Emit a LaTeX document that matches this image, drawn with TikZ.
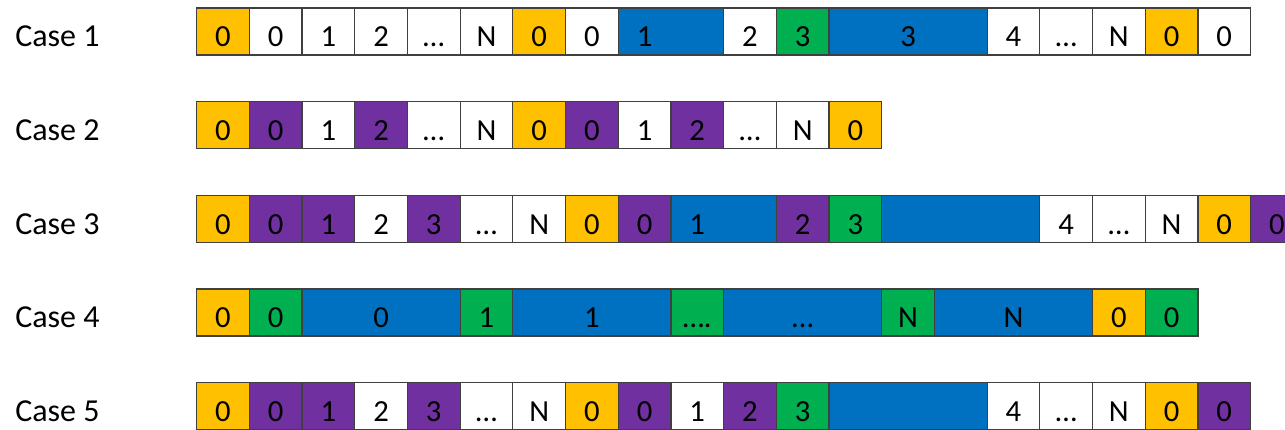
\documentclass[tikz,border=0pt]{standalone}
\usepackage{fontspec}
\setmainfont{Carlito}
\definecolor{cy}{HTML}{FFC000}
\definecolor{cp}{HTML}{7030A0}
\definecolor{cb}{HTML}{0070C0}
\definecolor{cg}{HTML}{00B050}
\tikzset{
 cell/.style={draw=black!75, line width=0.9pt, anchor=north west, minimum height=35.25pt,
   inner sep=0pt, text height=23pt, text depth=0pt, font=\fontsize{23}{27}\selectfont},
 caselabel/.style={anchor=west, inner sep=0pt, text height=24pt, text depth=0pt,
   font=\fontsize{24}{28}\selectfont}
}
\newcommand\lone{\makebox[79.05pt][l]{\makebox[39.525pt]{1}}}
\newcommand\cellrow[3]{%
  \xdef\curx{196}%
  \foreach \lab/\col/\w [count=\i] in {#3} {
    \node[cell, fill=\col, minimum width=\w*39.525pt] (#1c\i) at (\curx,#2) {\lab};
    \pgfmathsetmacro\nx{\curx+\w*52.7}
    \xdef\curx{\nx}
  }%
}
\begin{document}
\begin{tikzpicture}[x=0.75pt,y=-0.75pt]
\useasboundingbox (0,0) rectangle (1285,429);
\clip (0,0) rectangle (1285,429);
\node[caselabel] (case1) at (15,30.8) {Case 1};
\node[caselabel] (case2) at (15,124.5) {Case 2};
\node[caselabel] (case3) at (15,218.2) {Case 3};
\node[caselabel] (case4) at (15,311.9) {Case 4};
\node[caselabel] (case5) at (15,405.6) {Case 5};
\cellrow{ra}{7.3}{0/cy/1, 0/white/1, 1/white/1, 2/white/1, …/white/1, N/white/1, 0/cy/1, 0/white/1, \lone/cb/2, 2/white/1, 3/cg/1, 3/cb/3, 4/white/1, …/white/1, N/white/1, 0/cy/1, 0/white/1}
\cellrow{rb}{101}{0/cy/1, 0/cp/1, 1/white/1, 2/cp/1, …/white/1, N/white/1, 0/cy/1, 0/cp/1, 1/white/1, 2/cp/1, …/white/1, N/white/1, 0/cy/1}
\cellrow{rc}{194.7}{0/cy/1, 0/cp/1, 1/cp/1, 2/white/1, 3/cp/1, …/white/1, N/white/1, 0/cy/1, 0/cp/1, \lone/cb/2, 2/cp/1, 3/cg/1, {}/cb/3, 4/white/1, …/white/1, N/white/1, 0/cy/1, 0/cp/1}
\cellrow{rd}{288.4}{0/cy/1, 0/cg/1, 0/cb/3, 1/cg/1, 1/cb/3, …./cg/1, …/cb/3, N/cg/1, N/cb/3, 0/cy/1, 0/cg/1}
\cellrow{re}{382.1}{0/cy/1, 0/cp/1, 1/cp/1, 2/white/1, 3/cp/1, …/white/1, N/white/1, 0/cy/1, 0/cp/1, 1/white/1, 2/cp/1, 3/cg/1, {}/cb/3, 4/white/1, …/white/1, N/white/1, 0/cy/1, 0/cp/1}
\end{tikzpicture}
\end{document}
